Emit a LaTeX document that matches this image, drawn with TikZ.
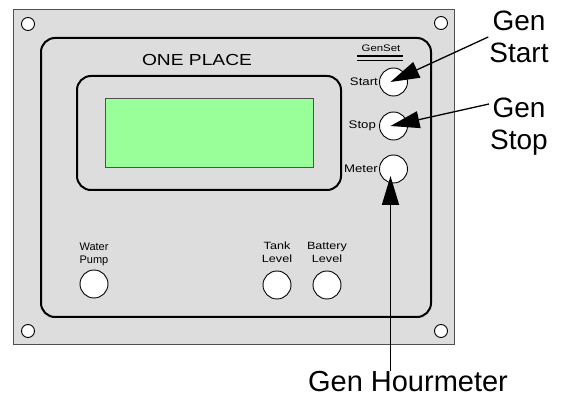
\documentclass[tikz,border=0pt]{standalone}
\usepackage{fontspec}
\setmainfont{Liberation Sans}
\newfontfamily\widefont{Liberation Sans}[FakeStretch=1.2]
\usetikzlibrary{positioning}
\usetikzlibrary{arrows.meta}
\definecolor{panelgray}{RGB}{221,221,221}
\definecolor{lcdgreen}{RGB}{153,255,153}
\definecolor{rimgray}{RGB}{80,80,80}
\tikzset{
    mybtn/.style = {circle, draw=black, line width=0.9pt, fill=white, minimum size=28pt, inner sep=0pt},
    myhole/.style = {circle, draw=black, line width=0.9pt, fill=white, minimum size=13pt, inner sep=0pt},
    mylabel/.style = {font=\widefont\fontsize{11}{13}\selectfont, text=black, inner sep=1pt, align=center},
    mylabelb/.style = {font=\widefont\fontsize{10.5}{13}\selectfont, text=black, inner sep=1pt, align=center},
    mylabeln/.style = {font=\fontsize{11}{13}\selectfont, text=black, inner sep=1pt, align=center}, % narrow
    mycallout/.style = {font=\fontsize{28}{32}\selectfont, text=black, inner sep=1pt, align=center},
    edgea/.style = {-{Triangle[length=29pt,width=17pt]}, line width=1.3pt, black},
    edgeb/.style = {-{Triangle[length=29pt,width=17pt]}, line width=1.8pt, black}
}
\begin{document}
\begin{tikzpicture}[x=1pt, y=-1pt]
  \useasboundingbox (0,0) rectangle (566,398);
  % panel and frames
  \draw[rimgray, line width=1pt, fill=panelgray] (13,10) rectangle (454,345);
  \node[myhole] (hole1) at (28,24) {};
  \node[myhole] (hole2) at (441,23) {};
  \node[myhole] (hole3) at (28,331) {};
  \node[myhole] (hole4) at (441,331) {};
  \draw[line width=2pt, rounded corners=14pt] (41,38) rectangle (431,317);
  \draw[line width=2pt, rounded corners=14pt] (77,76) rectangle (341,190);
  \draw[rimgray, line width=0.9pt, fill=lcdgreen] (105,98) rectangle (313,167);
  \node[font=\widefont\fontsize{16}{19}\selectfont, text=black] (title) at (197,60) {ONE PLACE};
  \node[mylabel, font=\widefont\fontsize{9.5}{11}\selectfont] (genset) at (381,48) {GenSet};
  \draw[line width=1.2pt] (357,56) -- (403,56) (357,60.5) -- (403,60.5);
  % buttons
  \node[mybtn] (start) at (393.5,82) {};
  \node[mybtn] (stop) at (393.5,126) {};
  \node[mybtn] (meter) at (393.5,169) {};
  \node[mybtn] (pump) at (94,284) {};
  \node[mybtn] (tank) at (277,285) {};
  \node[mybtn] (battery) at (327,285) {};
  \node[mylabel, left=0pt of start] (startlbl) {Start};
  \node[mylabel, left=2pt of stop] (stoplbl) {Stop};
  \node[mylabel, left=0pt of meter] (meterlbl) {Meter};
  \node[mylabeln, above=3pt of pump] (pumplbl) {Water\\Pump};
  \node[mylabelb, above=7pt of tank] (tanklbl) {Tank\\Level};
  \node[mylabelb, above=7pt of battery] (batterylbl) {Battery\\Level};
  % callouts
  \node[mycallout] (genstart) at (519,37) {Gen\\Start};
  \node[mycallout] (genstop) at (519,127) {Gen\\Stop};
  \node[mycallout, font=\fontsize{29}{32}\selectfont] (genhour) at (408,382) {Gen Hourmeter};
  \draw[edgea] (genstart.west) -- ([xshift=-3pt]start.center);
  \draw[edgea] ([yshift=23pt]genstop.west) -- ([xshift=-3pt]stop.center);
  \draw[edgeb] ([xshift=-3pt]meter.center |- genhour.north) -- ([xshift=-3pt,yshift=-7pt]meter.center);
\end{tikzpicture}
\end{document}
